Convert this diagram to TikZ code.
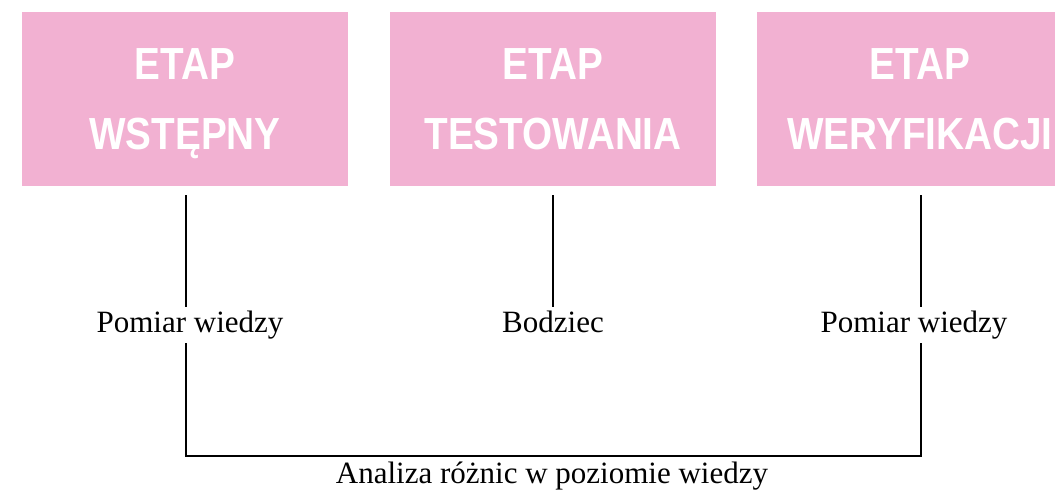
\documentclass[tikz,border=0pt]{standalone}
\usepackage{fontspec}
\setmainfont{Liberation Serif}
\newfontfamily\boxfont[FakeStretch=0.86]{Liberation Sans Bold}
\definecolor{etappink}{RGB}{242,177,210}
\begin{document}
\begin{tikzpicture}[x=1pt,y=-1pt,
  etapbox/.style={fill=etappink, draw=none, minimum width=326pt, minimum height=174pt,
    inner sep=0pt, align=center, text=white, font=\boxfont\fontsize{45}{70}\selectfont},
  lbl/.style={font=\fontsize{31}{37}\selectfont, inner sep=4pt, text height=21pt, text depth=7pt, anchor=base},
  conn/.style={line width=2.8pt, draw=black, line join=miter}]
\useasboundingbox (0,0) rectangle (1055,497);
\clip (0,0) rectangle (1055,497);
\node[etapbox] (b1) at (185,99) {\rule{0pt}{42pt}ETAP\\WSTĘPNY\rule[-10pt]{0pt}{10pt}};
\node[etapbox] (b2) at (553,99) {\rule{0pt}{42pt}ETAP\\TESTOWANIA\rule[-10pt]{0pt}{10pt}};
\node[etapbox] (b3) at (920,99) {\rule{0pt}{42pt}ETAP\\WERYFIKACJI\rule[-10pt]{0pt}{10pt}};
\node[lbl] (l1) at (190,332) {Pomiar wiedzy};
\node[lbl] (l2) at (553,332) {Bodziec};
\node[lbl] (l3) at (914,332) {Pomiar wiedzy};
\node[lbl] (l4) at (552,483) {Analiza różnic w poziomie wiedzy};
\coordinate (bot) at (553,456);
\draw[conn] ([xshift=1pt,yshift=-9pt]b1.south) -- ([xshift=1pt]b1.south |- l1.north);
\draw[conn] ([yshift=-9pt]b2.south) -- (b2.south |- l2.north);
\draw[conn] ([xshift=1pt,yshift=-9pt]b3.south) -- ([xshift=1pt]b3.south |- l3.north);
\draw[conn] ([xshift=1pt]b1.south |- l1.south) |- (bot) -| ([xshift=1pt]b3.south |- l3.south);
\end{tikzpicture}
\end{document}
